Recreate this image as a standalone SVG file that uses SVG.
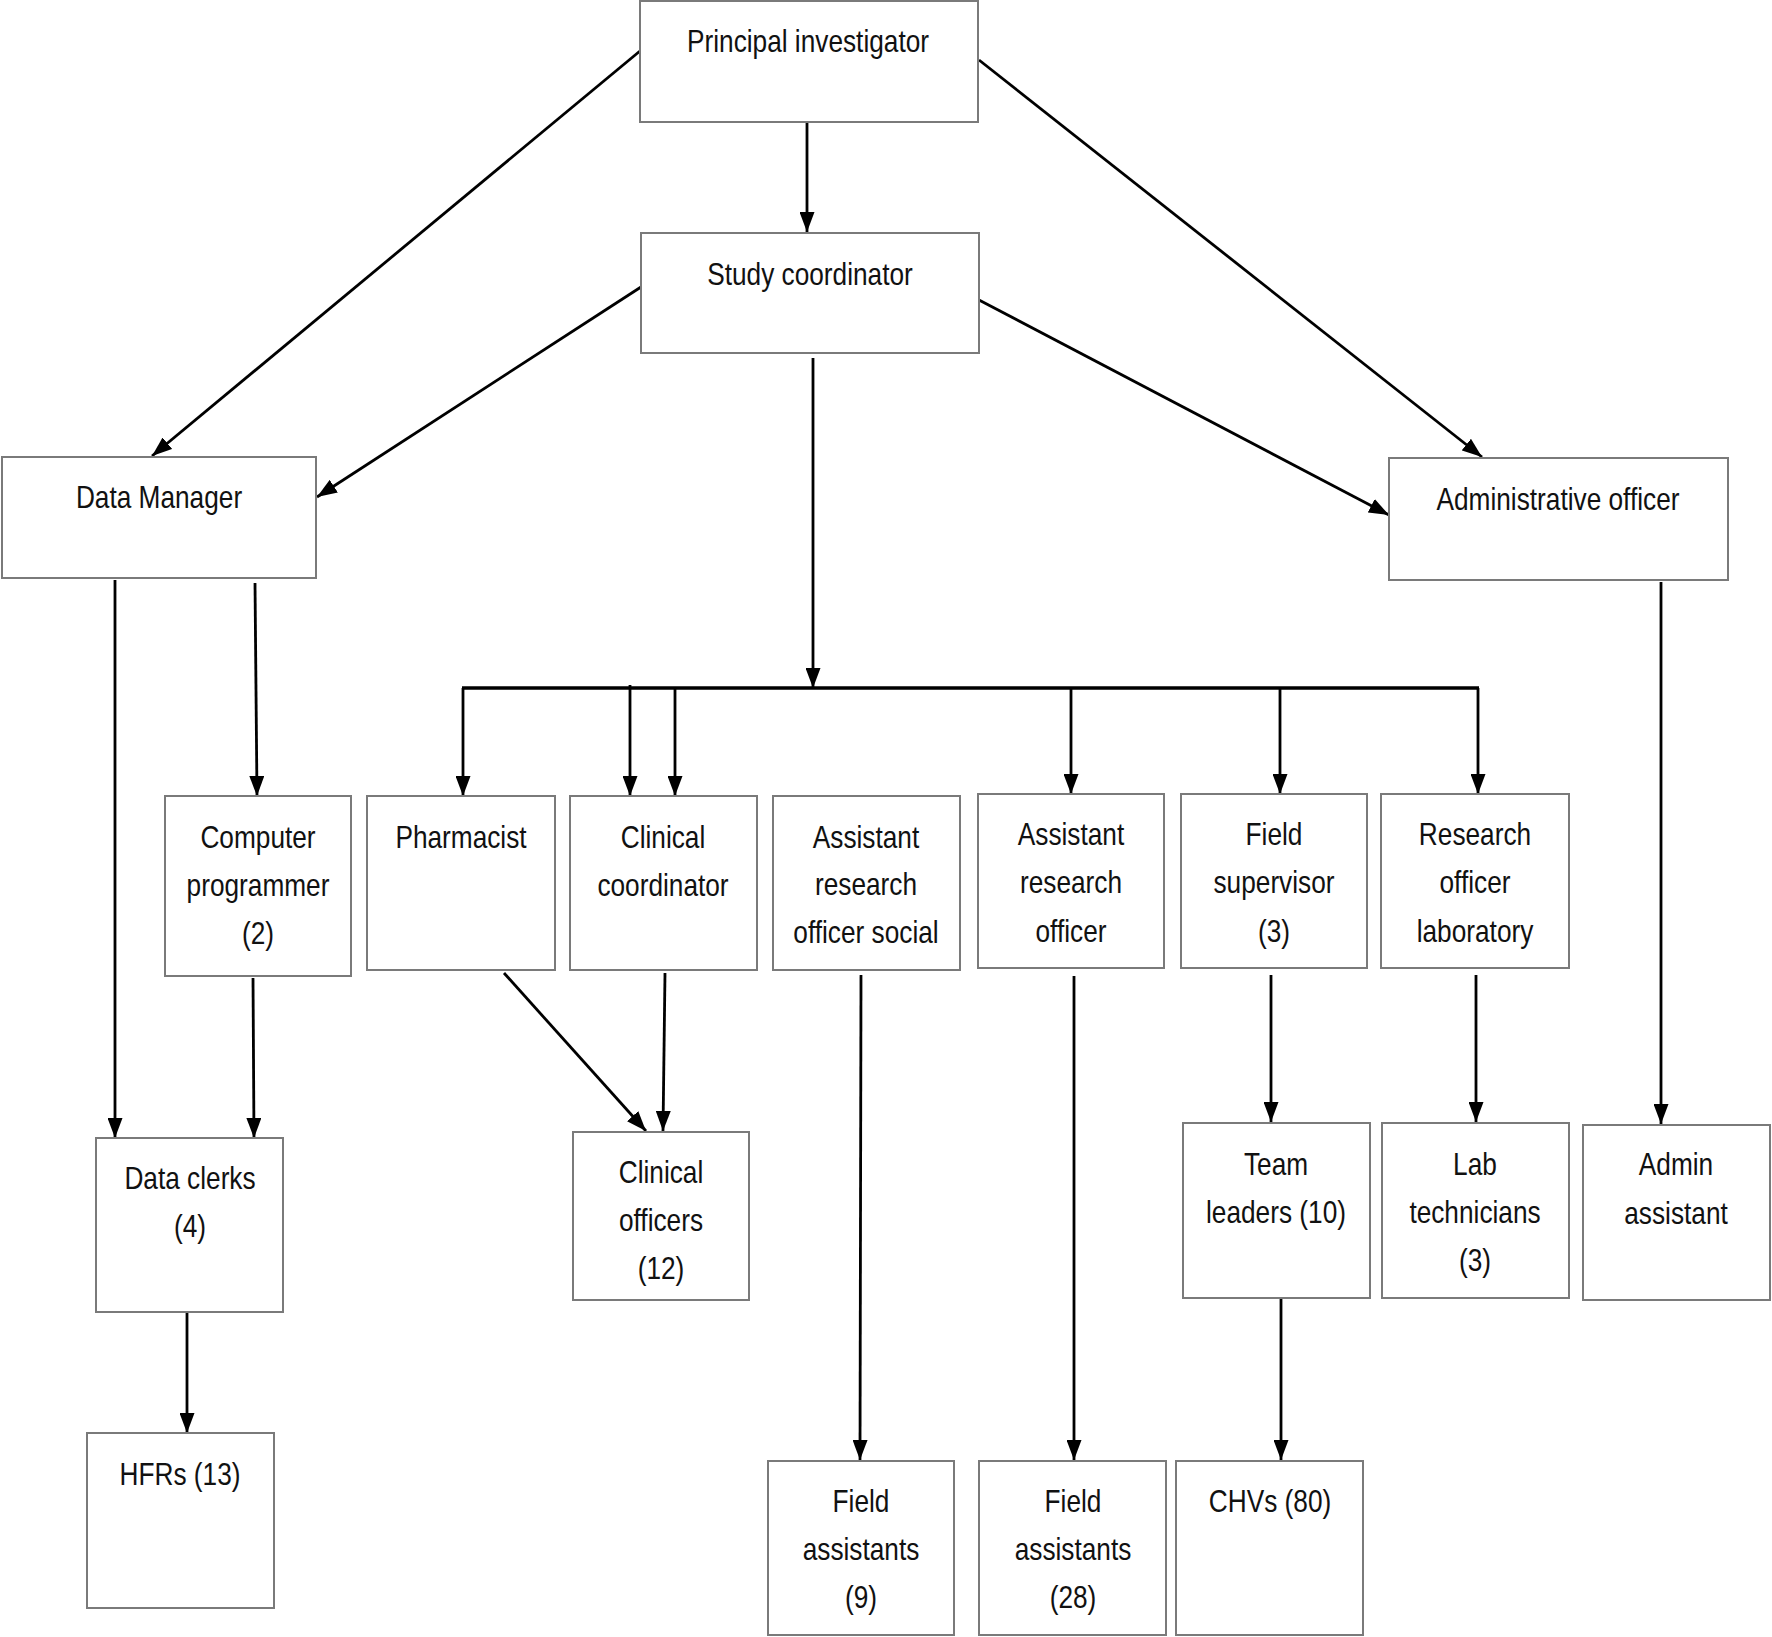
<svg xmlns="http://www.w3.org/2000/svg" width="1772" height="1637" viewBox="0 0 1772 1637">
<defs>
<marker id="ah" viewBox="0 0 20 15" refX="20" refY="7.5" markerWidth="20" markerHeight="15" markerUnits="userSpaceOnUse" orient="auto"><path d="M0,0 L20,7.5 L0,15 z" fill="#000"/></marker>
<style>
.box{fill:#fff;stroke:#7a7a7a;stroke-width:2}
.t{font-family:"Liberation Sans",Arial,sans-serif;font-size:32px;fill:#111;text-anchor:middle}
.c{stroke:#000;stroke-width:2.8;fill:none}
.a{marker-end:url(#ah)}
</style>
</defs>
<rect width="1772" height="1637" fill="#fff"/>
<g id="connectors">
<line class="c a" x1="807" y1="123" x2="807" y2="232"/>
<line class="c a" x1="640" y1="51" x2="152" y2="456"/>
<line class="c a" x1="641" y1="287" x2="317" y2="497"/>
<line class="c a" x1="979" y1="60" x2="1482" y2="457"/>
<line class="c a" x1="979" y1="300" x2="1389" y2="515"/>
<line class="c a" x1="813" y1="358" x2="813" y2="688"/>
<line class="c" x1="462" y1="688" x2="1479" y2="688" style="stroke-width:3.4"/>
<line class="c a" x1="463" y1="688" x2="463" y2="796"/>
<line class="c a" x1="630" y1="685" x2="630" y2="796"/>
<line class="c a" x1="675" y1="688" x2="675" y2="796"/>
<line class="c a" x1="1071" y1="688" x2="1071" y2="794"/>
<line class="c a" x1="1280" y1="688" x2="1280" y2="794"/>
<line class="c a" x1="1478" y1="688" x2="1478" y2="794"/>
<line class="c a" x1="115" y1="580" x2="115" y2="1138"/>
<line class="c a" x1="255" y1="583" x2="257" y2="796"/>
<line class="c a" x1="253" y1="978" x2="254" y2="1138"/>
<line class="c a" x1="187" y1="1313" x2="187" y2="1433"/>
<line class="c a" x1="504" y1="973" x2="646" y2="1131"/>
<line class="c a" x1="665" y1="973" x2="663" y2="1131"/>
<line class="c a" x1="861" y1="975" x2="860" y2="1460"/>
<line class="c a" x1="1074" y1="976" x2="1074" y2="1460"/>
<line class="c a" x1="1271" y1="975" x2="1271" y2="1122"/>
<line class="c a" x1="1281" y1="1299" x2="1281" y2="1460"/>
<line class="c a" x1="1476" y1="975" x2="1476" y2="1122"/>
<line class="c a" x1="1661" y1="582" x2="1661" y2="1124"/>
</g>
<g id="pi"><rect class="box" x="640" y="1" width="338" height="121"/><text class="t" transform="translate(808,52) scale(0.82,1)">Principal investigator</text></g>
<g id="sc"><rect class="box" x="641" y="233" width="338" height="120"/><text class="t" transform="translate(810,285) scale(0.82,1)">Study coordinator</text></g>
<g id="dm"><rect class="box" x="2" y="457" width="314" height="121"/><text class="t" transform="translate(159,508) scale(0.82,1)">Data Manager</text></g>
<g id="ao"><rect class="box" x="1389" y="458" width="339" height="122"/><text class="t" transform="translate(1558,510) scale(0.82,1)">Administrative officer</text></g>
<g id="cp"><rect class="box" x="165" y="796" width="186" height="180"/><text class="t" transform="translate(258,848) scale(0.82,1)"><tspan x="0">Computer</tspan><tspan x="0" dy="48">programmer</tspan><tspan x="0" dy="48">(2)</tspan></text></g>
<g id="ph"><rect class="box" x="367" y="796" width="188" height="174"/><text class="t" transform="translate(461,848) scale(0.82,1)">Pharmacist</text></g>
<g id="cc"><rect class="box" x="570" y="796" width="187" height="174"/><text class="t" transform="translate(663,848) scale(0.82,1)"><tspan x="0">Clinical</tspan><tspan x="0" dy="48">coordinator</tspan></text></g>
<g id="aros"><rect class="box" x="773" y="796" width="187" height="174"/><text class="t" transform="translate(866,848) scale(0.82,1)"><tspan x="0">Assistant</tspan><tspan x="0" dy="47">research</tspan><tspan x="0" dy="48">officer social</tspan></text></g>
<g id="aro"><rect class="box" x="978" y="794" width="186" height="174"/><text class="t" transform="translate(1071,845) scale(0.82,1)"><tspan x="0">Assistant</tspan><tspan x="0" dy="48">research</tspan><tspan x="0" dy="49">officer</tspan></text></g>
<g id="fs"><rect class="box" x="1181" y="794" width="186" height="174"/><text class="t" transform="translate(1274,845) scale(0.82,1)"><tspan x="0">Field</tspan><tspan x="0" dy="48">supervisor</tspan><tspan x="0" dy="49">(3)</tspan></text></g>
<g id="rol"><rect class="box" x="1381" y="794" width="188" height="174"/><text class="t" transform="translate(1475,845) scale(0.82,1)"><tspan x="0">Research</tspan><tspan x="0" dy="48">officer</tspan><tspan x="0" dy="49">laboratory</tspan></text></g>
<g id="dc"><rect class="box" x="96" y="1138" width="187" height="174"/><text class="t" transform="translate(190,1189) scale(0.82,1)"><tspan x="0">Data clerks</tspan><tspan x="0" dy="48">(4)</tspan></text></g>
<g id="hfr"><rect class="box" x="87" y="1433" width="187" height="175"/><text class="t" transform="translate(180,1485) scale(0.82,1)">HFRs (13)</text></g>
<g id="co"><rect class="box" x="573" y="1132" width="176" height="168"/><text class="t" transform="translate(661,1183) scale(0.82,1)"><tspan x="0">Clinical</tspan><tspan x="0" dy="48">officers</tspan><tspan x="0" dy="48">(12)</tspan></text></g>
<g id="tl"><rect class="box" x="1183" y="1123" width="187" height="175"/><text class="t" transform="translate(1276,1175) scale(0.82,1)"><tspan x="0">Team</tspan><tspan x="0" dy="48">leaders (10)</tspan></text></g>
<g id="lt"><rect class="box" x="1382" y="1123" width="187" height="175"/><text class="t" transform="translate(1475,1175) scale(0.82,1)"><tspan x="0">Lab</tspan><tspan x="0" dy="48">technicians</tspan><tspan x="0" dy="48">(3)</tspan></text></g>
<g id="aa"><rect class="box" x="1583" y="1125" width="187" height="175"/><text class="t" transform="translate(1676,1175) scale(0.82,1)"><tspan x="0">Admin</tspan><tspan x="0" dy="49">assistant</tspan></text></g>
<g id="fa9"><rect class="box" x="768" y="1461" width="186" height="174"/><text class="t" transform="translate(861,1512) scale(0.82,1)"><tspan x="0">Field</tspan><tspan x="0" dy="48">assistants</tspan><tspan x="0" dy="48">(9)</tspan></text></g>
<g id="fa28"><rect class="box" x="979" y="1461" width="187" height="174"/><text class="t" transform="translate(1073,1512) scale(0.82,1)"><tspan x="0">Field</tspan><tspan x="0" dy="48">assistants</tspan><tspan x="0" dy="48">(28)</tspan></text></g>
<g id="chv"><rect class="box" x="1176" y="1461" width="187" height="174"/><text class="t" transform="translate(1270,1512) scale(0.82,1)">CHVs (80)</text></g>
</svg>
